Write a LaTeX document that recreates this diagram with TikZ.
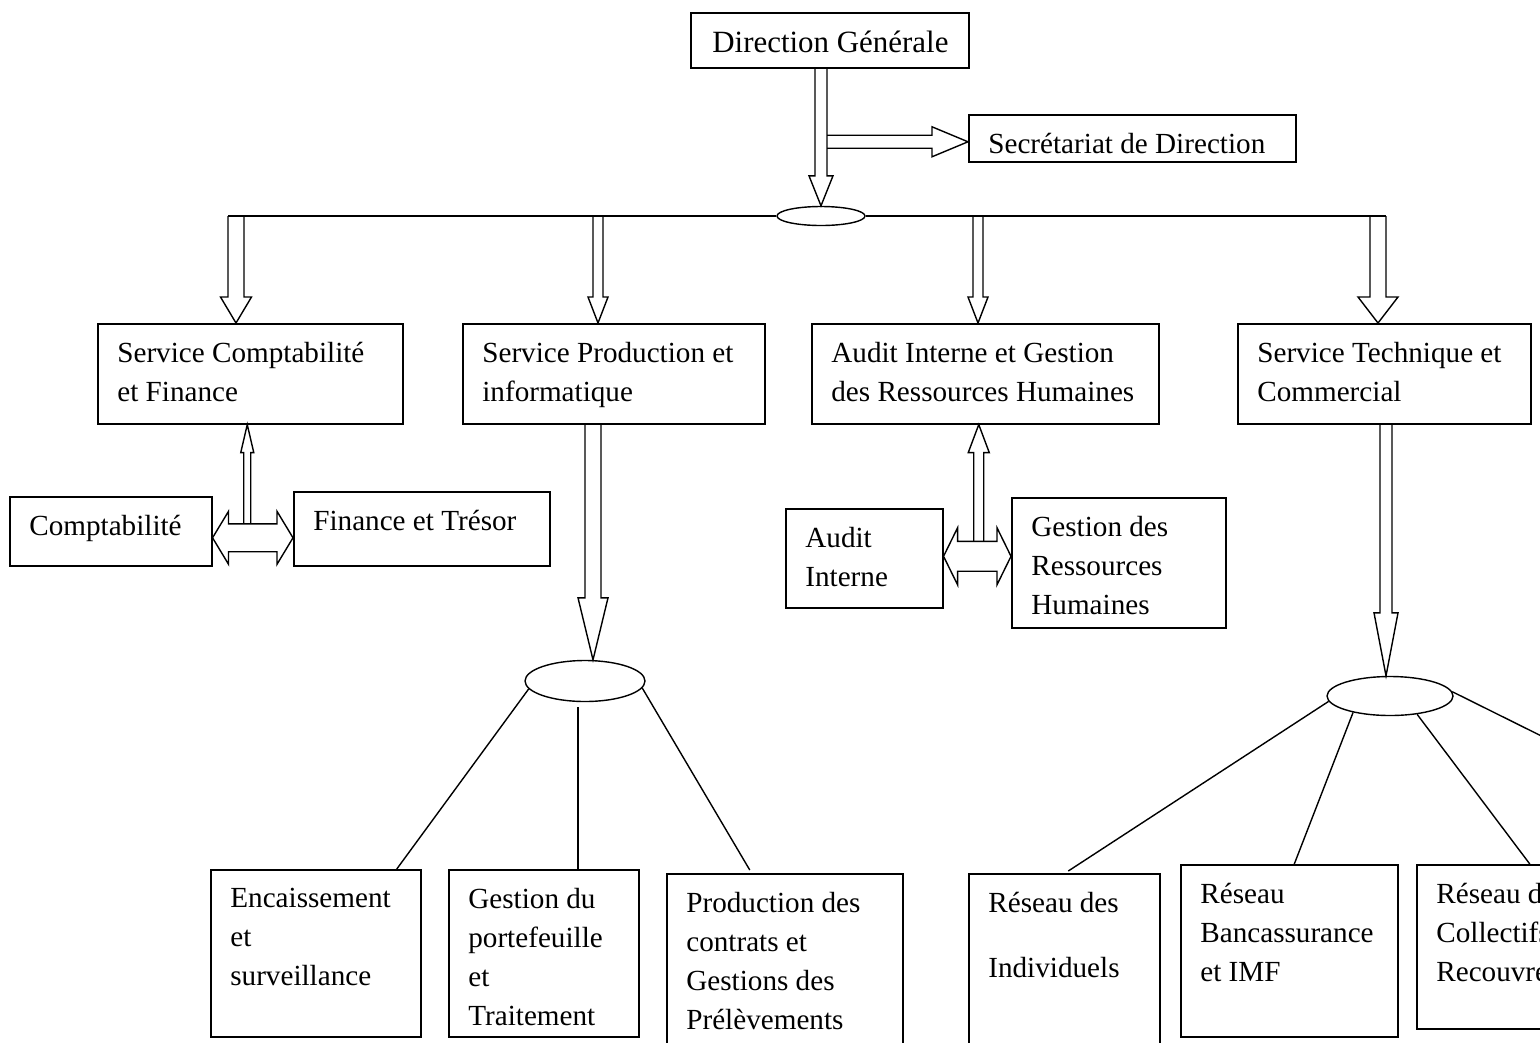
\documentclass[tikz,border=0pt]{standalone}
\usepackage{fontspec}
\setmainfont{Liberation Serif}
\usetikzlibrary{calc,shapes.geometric}
\tikzset{
  box/.style={draw,line width=0.9pt,anchor=north west,inner sep=0pt},
  txt/.style={anchor=north west,align=left,inner sep=0pt,xshift=0.4cm,yshift=-0.37cm,
    font=\fontsize{16.6}{22.2}\selectfont},
  arw/.style={draw,line width=0.8pt,line join=miter},
  hub/.style={draw,ellipse,line width=0.8pt,fill=white,inner sep=0pt},
  lnk/.style={line width=0.8pt}
}
% hollow block arrow: from, to, half shaft, half head, head length
\newcommand{\blkarrow}[5]{%
  \coordinate (ba) at ($(#2)!#5!(#1)$);
  \draw[arw] ($(#1)!#3!90:(#2)$) -- ($(ba)!#3!90:(#2)$) -- ($(ba)!#4!90:(#2)$)
    -- (#2) -- ($(ba)!#4!-90:(#2)$) -- ($(ba)!#3!-90:(#2)$) -- ($(#1)!#3!-90:(#2)$);
}
% same, with a head at both ends
\newcommand{\dblarrow}[5]{%
  \coordinate (ba) at ($(#2)!#5!(#1)$);
  \coordinate (bb) at ($(#1)!#5!(#2)$);
  \draw[arw] (#1) -- ($(bb)!#4!90:(#2)$) -- ($(bb)!#3!90:(#2)$) -- ($(ba)!#3!90:(#2)$)
    -- ($(ba)!#4!90:(#2)$) -- (#2) -- ($(ba)!#4!-90:(#2)$) -- ($(ba)!#3!-90:(#2)$)
    -- ($(bb)!#3!-90:(#2)$) -- ($(bb)!#4!-90:(#2)$) -- cycle;
}
\begin{document}
\begin{tikzpicture}[x=0.02cm,y=-0.02cm]
\useasboundingbox (0,0) rectangle (1540,1042);
\clip (0,0) rectangle (1540,1042);

% direction
\node[box,minimum width=5.56cm,minimum height=1.1cm,label={[txt,xshift=0.04cm,font=\fontsize{17.6}{22.2}\selectfont]north west:Direction Générale}](dg)at(690,12){};
\node[box,minimum width=6.54cm,minimum height=0.94cm,label={[txt]north west:Secrétariat de Direction}](sec)at(968,114){};

% services
\node[box,minimum width=6.1cm,minimum height=2cm,label={[txt]north west:{Service Comptabilité\\et Finance}}](scf)at(97,323){};
\node[box,minimum width=6.04cm,minimum height=2cm,label={[txt]north west:{Service Production et\\informatique}}](spi)at(462,323){};
\node[box,minimum width=6.94cm,minimum height=2cm,label={[txt]north west:{Audit Interne et Gestion\\des Ressources Humaines}}](aig)at(811,323){};
\node[box,minimum width=5.86cm,minimum height=2cm,label={[txt]north west:{Service Technique et\\Commercial}}](stc)at(1237,323){};

% sous-services
\node[box,minimum width=4.04cm,minimum height=1.38cm,label={[txt]north west:Comptabilité}](compta)at(9,496){};
\node[box,minimum width=5.12cm,minimum height=1.48cm,label={[txt]north west:Finance et Trésor}](fin)at(293,491){};
\node[box,minimum width=3.14cm,minimum height=1.98cm,label={[txt]north west:{Audit\\Interne}}](audit)at(785,508){};
\node[box,minimum width=4.28cm,minimum height=2.6cm,label={[txt]north west:{Gestion des\\Ressources\\Humaines}}](grh)at(1011,497){};

% cellules
\node[box,minimum width=4.2cm,minimum height=3.34cm,label={[txt]north west:{Encaissement\\et\\surveillance}}](enc)at(210,869){};
\node[box,minimum width=3.8cm,minimum height=3.34cm,label={[txt]north west:{Gestion du\\portefeuille\\et\\Traitement}}](gpt)at(448,869){};
\node[box,minimum width=4.72cm,minimum height=4cm,label={[txt]north west:{Production des\\contrats et\\Gestions des\\Prélèvements}}](prod)at(666,873){};
\node[box,minimum width=3.82cm,minimum height=4cm,label={[txt]north west:{Réseau des\\[0.52cm]Individuels}}](rind)at(968,873){};
\node[box,minimum width=4.34cm,minimum height=3.44cm,label={[txt]north west:{Réseau\\Bancassurance\\et IMF}}](rbanc)at(1180,864){};
\node[box,minimum width=4.52cm,minimum height=3.28cm,label={[txt]north west:{Réseau des\\Collectifs et\\Recouvrement}}](rcol)at(1416,864){};

% hubs
\node[hub,minimum width=1.76cm,minimum height=0.38cm](ell1)at(821,216){};
\node[hub,minimum width=2.4cm,minimum height=0.82cm](ell2)at(585,681){};
\node[hub,minimum width=2.52cm,minimum height=0.78cm](ell3)at(1390,696){};

% direction -> hub, secretariat
\coordinate (t0) at (ell1.north |- dg.south);
\blkarrow{t0}{ell1.north}{0.12cm}{0.24cm}{0.6cm}
\coordinate (s1) at ($(sec.west)+(0,3.5)$);
\coordinate (s0) at ($(t0 |- s1)+(6,0)$);
\blkarrow{s0}{s1}{0.13cm}{0.3cm}{0.72cm}

% bar -> services
\coordinate (b1) at (236,216);
\coordinate (b2) at (598,216);
\coordinate (b3) at (978,216);
\coordinate (b4) at (1378,216);
\foreach \bp/\nn/\sw/\hw in {b1/scf/0.16/0.31,b2/spi/0.1/0.2,b3/aig/0.1/0.2,b4/stc/0.16/0.4}{
  \coordinate (\bp-t) at (\bp |- \nn.north);
  \blkarrow{\bp}{\bp-t}{\sw cm}{\hw cm}{0.52cm}
}
\draw[lnk,line width=0.9pt] ($(b1)+(-8,0)$) -- (ell1.west) (ell1.east) -- ($(b4)+(8,0)$);

% comptabilite <-> finance
\coordinate (ca) at ($(compta.east)+(0,6.5)$);
\coordinate (cb) at (fin.west |- ca);
\dblarrow{ca}{cb}{0.28cm}{0.53cm}{0.32cm}
\coordinate (cu) at ($(scf.south)+(-3,0)$);
\coordinate (cd) at ($(cu |- ca)+(0,-14)$);
\blkarrow{cd}{cu}{0.07cm}{0.13cm}{0.56cm}

% audit <-> grh
\coordinate (da) at ($(audit.east)+(0,-2)$);
\coordinate (db) at (grh.west |- da);
\dblarrow{da}{db}{0.3cm}{0.57cm}{0.28cm}
\coordinate (du) at ($(aig.south)+(-6.5,0)$);
\coordinate (dd) at ($(du |- da)+(0,-15)$);
\blkarrow{dd}{du}{0.1cm}{0.21cm}{0.56cm}

% production
\coordinate (pt) at ($(ell2.north)+(8,0)$);
\coordinate (ps) at (pt |- spi.south);
\blkarrow{ps}{pt}{0.16cm}{0.3cm}{1.24cm}
\draw[lnk] (ell2.188) -- ($(enc.north)+(81,0)$);
\coordinate (g2) at ($(ell2.south)+(-7,5)$);
\draw[lnk] (g2) -- (g2 |- gpt.north);
\draw[lnk] (ell2.353) -- ($(prod.north)+(-35,-3)$);

% technique et commercial
\coordinate (qt) at ($(ell3.north)+(-4,0)$);
\coordinate (qs) at (qt |- stc.south);
\blkarrow{qs}{qt}{0.12cm}{0.24cm}{1.26cm}
\draw[lnk] (ell3.185) -- ($(rind.north)+(4,-2)$);
\draw[lnk] (ell3.204) -- ($(rbanc.north)+(5,0)$);
\draw[lnk] (ell3.326) -- (rcol.north);
\coordinate (r5) at (1640,785);
\draw[lnk] (ell3.4) -- (r5);
\end{tikzpicture}
\end{document}
